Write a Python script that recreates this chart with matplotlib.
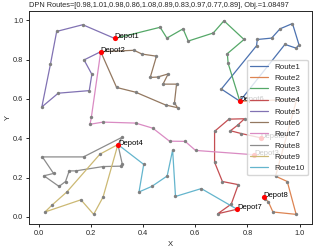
import matplotlib
matplotlib.use("Agg")
import matplotlib.pyplot as plt
import seaborn as sns

sns.set_theme(style="ticks")
plt.rcParams['font.family'] = ['Liberation Sans', 'DejaVu Sans']

title = "DPN Routes=[0.98,1.01,0.98,0.86,1.08,0.89,0.83,0.97,0.77,0.89], Obj.=1.08497"

# depots
depot_names = ["Depot1", "Depot2", "Depot3", "Depot4", "Depot5", "Depot6", "Depot7", "Depot8"]
depot_x = [0.291, 0.237, 0.825, 0.303, 0.851, 0.771, 0.760, 0.862]
depot_y = [0.907, 0.840, 0.316, 0.368, 0.402, 0.588, 0.039, 0.101]

# routes (polylines, first/last point is a depot)
r1_x = [0.771, 0.944, 0.987, 0.998, 0.973, 0.925, 0.893, 0.838, 0.835, 0.700, 0.771]
r1_y = [0.588, 0.877, 0.858, 0.875, 0.983, 0.956, 0.909, 0.902, 0.870, 0.650, 0.588]

r2_x = [0.771, 0.989, 0.908, 0.953, 0.987, 0.898, 0.880, 0.868, 0.862]
r2_y = [0.588, 0.597, 0.207, 0.180, 0.013, 0.025, 0.078, 0.090, 0.101]

r3_x = [0.291, 0.465, 0.491, 0.553, 0.573, 0.669, 0.710, 0.787, 0.723, 0.726, 0.771]
r3_y = [0.907, 0.964, 0.909, 0.956, 0.894, 0.935, 0.997, 0.902, 0.830, 0.781, 0.588]

r4_x = [0.760, 0.686, 0.738, 0.765, 0.704, 0.674, 0.674, 0.729, 0.789, 0.762, 0.735, 0.776, 0.851]
r4_y = [0.039, 0.016, 0.065, 0.164, 0.180, 0.278, 0.435, 0.497, 0.499, 0.466, 0.438, 0.424, 0.402]

r5_x = [0.291, 0.168, 0.068, 0.044, 0.011, 0.074, 0.193, 0.203, 0.173, 0.237]
r5_y = [0.907, 0.977, 0.943, 0.776, 0.559, 0.629, 0.642, 0.725, 0.798, 0.840]

r6_x = [0.237, 0.365, 0.395, 0.451, 0.427, 0.455, 0.496, 0.476, 0.528, 0.520, 0.532, 0.486, 0.371, 0.298, 0.237]
r6_y = [0.840, 0.847, 0.828, 0.817, 0.709, 0.711, 0.727, 0.675, 0.675, 0.580, 0.555, 0.569, 0.634, 0.658, 0.840]

r7_x = [0.237, 0.201, 0.196, 0.246, 0.371, 0.437, 0.501, 0.561, 0.601, 0.825]
r7_y = [0.840, 0.506, 0.471, 0.482, 0.477, 0.451, 0.385, 0.384, 0.338, 0.316]

r8_x = [0.303, 0.319, 0.171, 0.013, 0.056, 0.019, 0.077, 0.102, 0.116, 0.141, 0.246, 0.313, 0.320, 0.303]
r8_y = [0.368, 0.405, 0.305, 0.305, 0.221, 0.209, 0.155, 0.180, 0.234, 0.234, 0.256, 0.258, 0.267, 0.368]

r9_x = [0.303, 0.234, 0.107, 0.050, 0.023, 0.161, 0.210, 0.246, 0.303]
r9_y = [0.368, 0.319, 0.127, 0.060, 0.025, 0.087, 0.013, 0.101, 0.368]

r10_x = [0.303, 0.402, 0.384, 0.433, 0.492, 0.513, 0.524, 0.623, 0.760]
r10_y = [0.368, 0.267, 0.127, 0.155, 0.208, 0.340, 0.104, 0.144, 0.039]

routes_x = [r1_x, r2_x, r3_x, r4_x, r5_x, r6_x, r7_x, r8_x, r9_x, r10_x]
routes_y = [r1_y, r2_y, r3_y, r4_y, r5_y, r6_y, r7_y, r8_y, r9_y, r10_y]

colors = sns.color_palette("deep", 10)

fig, ax = plt.subplots(figsize=(3.15, 2.47), dpi=100)
fig.subplots_adjust(left=0.092, right=0.99, top=0.955, bottom=0.093)

for i in range(10):
    ax.plot(routes_x[i], routes_y[i], color=colors[i], lw=0.9, label="Route" + str(i + 1))
    ax.scatter(routes_x[i][1:-1], routes_y[i][1:-1], s=6, color="gray", zorder=3, lw=0)

ax.scatter(depot_x, depot_y, s=14, color="red", zorder=4, lw=0)
for n, x, y in zip(depot_names, depot_x, depot_y):
    ax.text(x, y, n, fontsize=5.5, color="black")

ax.set_title(title, fontsize=5.3, pad=3, x=0.46)
ax.set_xlabel("X", fontsize=5.5, labelpad=3)
ax.set_ylabel("Y", fontsize=5.5, labelpad=1)
ax.tick_params(labelsize=5.3, length=2.5, width=0.7, pad=1.5)
for s in ax.spines.values():
    s.set_linewidth(0.7)
ax.set_xticks([0.0, 0.2, 0.4, 0.6, 0.8, 1.0])
ax.set_yticks([0.0, 0.2, 0.4, 0.6, 0.8, 1.0])

ax.legend(loc="center right", fontsize=5.8, handlelength=2.2, borderpad=0.4, labelspacing=0.45)

fig.savefig("out.png", dpi=100)
